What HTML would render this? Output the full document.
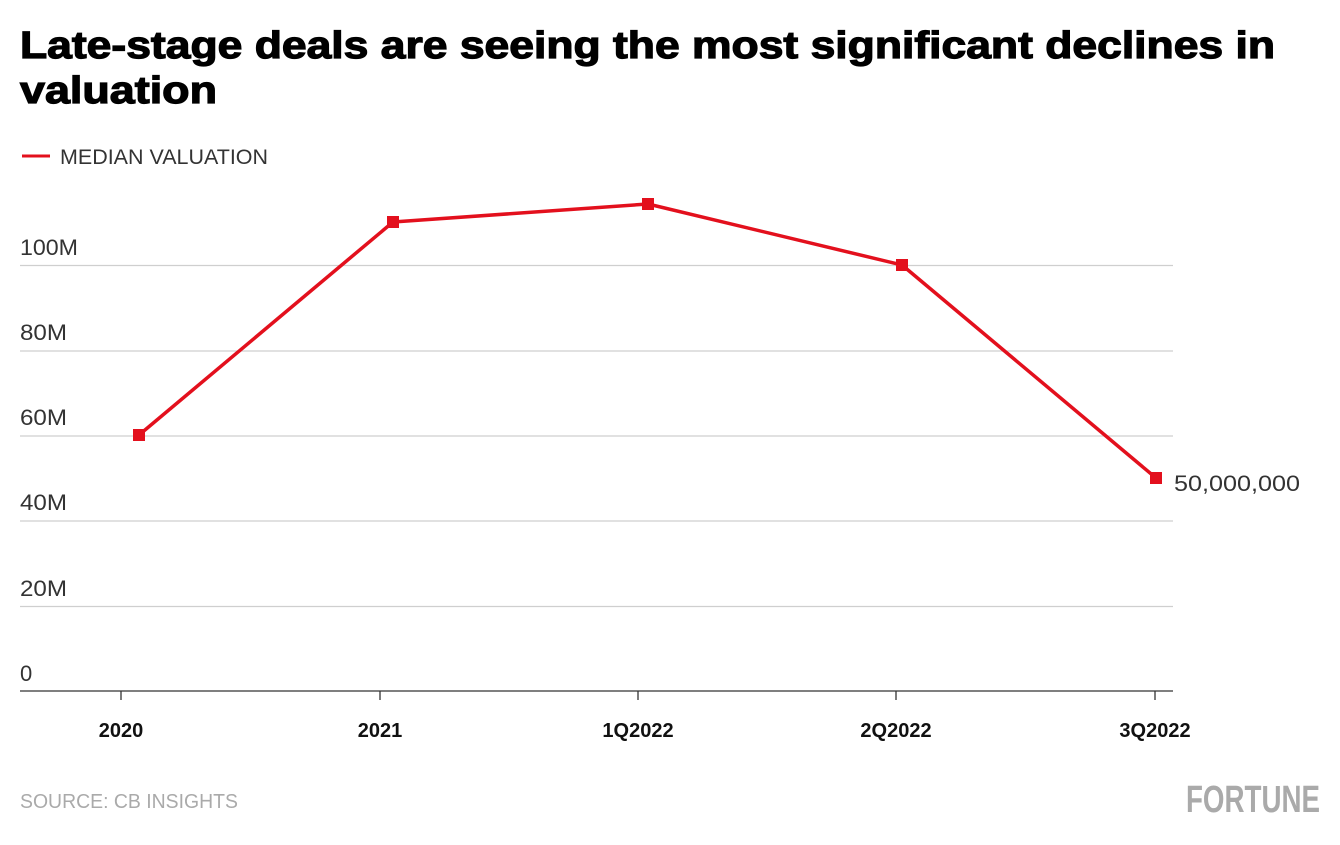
<!DOCTYPE html>
<html><head><meta charset="utf-8"><style>
body{margin:0;background:#fff;width:1340px;height:840px;overflow:hidden;font-family:"Liberation Sans",sans-serif}
</style></head><body>
<svg width="1340" height="840" xmlns="http://www.w3.org/2000/svg" font-family="Liberation Sans, sans-serif">
<g font-size="38" font-weight="bold" fill="#000" stroke="#000" stroke-width="1.2">
<text x="20" y="58" textLength="1255" lengthAdjust="spacingAndGlyphs">Late-stage deals are seeing the most significant declines in</text>
<text x="20" y="103" textLength="197" lengthAdjust="spacingAndGlyphs">valuation</text>
</g>
<line x1="22" y1="156" x2="50" y2="156" stroke="#e3101d" stroke-width="3"/>
<text x="60" y="164" font-size="21" fill="#333" textLength="208" lengthAdjust="spacingAndGlyphs">MEDIAN VALUATION</text>
<g stroke="#cfcfcf" stroke-width="1.3">
<line x1="20" y1="265.5" x2="1173" y2="265.5"/>
<line x1="20" y1="351" x2="1173" y2="351"/>
<line x1="20" y1="436" x2="1173" y2="436"/>
<line x1="20" y1="521" x2="1173" y2="521"/>
<line x1="20" y1="606.5" x2="1173" y2="606.5"/>
</g>
<line x1="20" y1="691" x2="1173" y2="691" stroke="#333" stroke-width="1.3"/>
<g stroke="#333" stroke-width="1.3">
<line x1="121" y1="691" x2="121" y2="700"/>
<line x1="380" y1="691" x2="380" y2="700"/>
<line x1="638" y1="691" x2="638" y2="700"/>
<line x1="896" y1="691" x2="896" y2="700"/>
<line x1="1155" y1="691" x2="1155" y2="700"/>
</g>
<g font-size="22" fill="#333">
<text x="20" y="255" textLength="58" lengthAdjust="spacingAndGlyphs">100M</text>
<text x="20" y="340" textLength="47" lengthAdjust="spacingAndGlyphs">80M</text>
<text x="20" y="425" textLength="47" lengthAdjust="spacingAndGlyphs">60M</text>
<text x="20" y="510" textLength="47" lengthAdjust="spacingAndGlyphs">40M</text>
<text x="20" y="596" textLength="47" lengthAdjust="spacingAndGlyphs">20M</text>
<text x="20" y="681">0</text>
</g>
<g font-size="20" font-weight="bold" fill="#111" text-anchor="middle">
<text x="121" y="737">2020</text>
<text x="380" y="737">2021</text>
<text x="638" y="737">1Q2022</text>
<text x="896" y="737">2Q2022</text>
<text x="1155" y="737">3Q2022</text>
</g>
<polyline points="139,435 393,222 648,204 902,265 1156,478" fill="none" stroke="#e3101d" stroke-width="3.5" stroke-linejoin="round"/>
<g fill="#e3101d">
<rect x="133" y="429" width="12" height="12"/>
<rect x="387" y="216" width="12" height="12"/>
<rect x="642" y="198" width="12" height="12"/>
<rect x="896" y="259" width="12" height="12"/>
<rect x="1150" y="472" width="12" height="12"/>
</g>
<text x="1174" y="491" font-size="22" fill="#333" textLength="126" lengthAdjust="spacingAndGlyphs">50,000,000</text>
<text x="20" y="808" font-size="20" fill="#aaa" textLength="218" lengthAdjust="spacingAndGlyphs">SOURCE: CB INSIGHTS</text>
<text x="1320" y="812" font-size="38" font-weight="bold" fill="#aaa" text-anchor="end" textLength="134" lengthAdjust="spacingAndGlyphs">FORTUNE</text>
</svg>
</body></html>
